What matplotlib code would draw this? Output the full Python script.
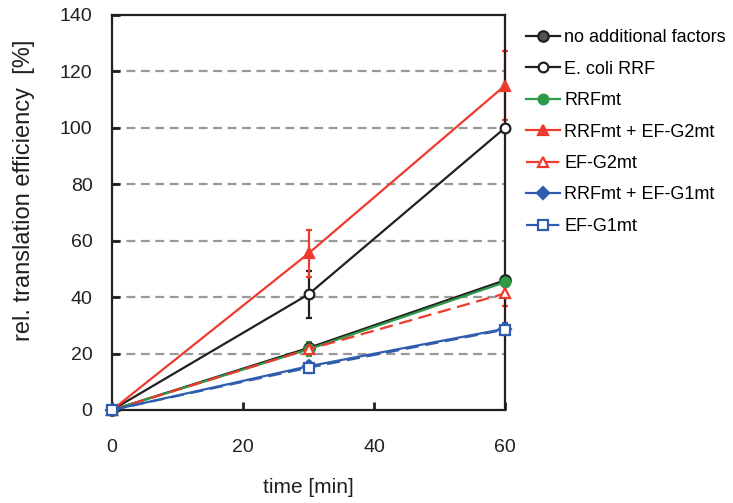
import matplotlib
matplotlib.use("Agg")
import matplotlib.pyplot as plt

plt.rcParams["font.family"] = ["Liberation Sans", "DejaVu Sans"]

# data
time = [0, 30, 60]
series_names = ["no additional factors", "E. coli RRF", "RRFmt", "RRFmt + EF-G2mt",
                "EF-G2mt", "RRFmt + EF-G1mt", "EF-G1mt"]
no_factors = [0, 22, 46]
no_factors_err = [0, 0, 0]
ecoli_rrf = [0, 41, 100]
ecoli_rrf_err = [0, 8.3, 0]
rrfmt = [0, 21.5, 45.3]
rrfmt_err = [0, 2.5, 0]
rrfmt_g2 = [0, 55.5, 115]
rrfmt_g2_err = [0, 8.3, 12.3]
efg2 = [0, 21.5, 41.3]
efg2_err = [0, 1.5, 4.5]
rrfmt_g1 = [0, 15.5, 28.8]
rrfmt_g1_err = [0, 1.5, 2]
efg1 = [0, 15, 28.5]
efg1_err = [0, 2, 2]

RED = "#EE3A2C"
GREEN = "#2E9A47"
BLUE = "#2F5DAE"
BLACK = "#231F20"
DASH = (0, (6, 3))

styles = [
    (no_factors, no_factors_err, dict(color=BLACK, marker="o", mfc="#555555", ls="-", ms=7.5)),
    (ecoli_rrf, ecoli_rrf_err, dict(color=BLACK, marker="o", mfc="white", ls="-", ms=7)),
    (rrfmt, rrfmt_err, dict(color=GREEN, marker="o", mfc=GREEN, ls="-", ms=7)),
    (rrfmt_g2, rrfmt_g2_err, dict(color=RED, marker="^", mfc=RED, ls="-", ms=7)),
    (efg2, efg2_err, dict(color=RED, marker="^", mfc="white", ls=DASH, ms=7)),
    (rrfmt_g1, rrfmt_g1_err, dict(color=BLUE, marker="D", mfc=BLUE, ls="-", ms=6)),
    (efg1, efg1_err, dict(color=BLUE, marker="s", mfc="white", ls=DASH, ms=6.5)),
]

fig = plt.figure(figsize=(7.33, 5.03), dpi=100)
ax = fig.add_axes([0.1528, 0.1849, 0.5362, 0.7853])

for y in [20, 40, 60, 80, 100, 120]:
    ax.axhline(y, color="#999999", lw=1.6, ls=(0, (4, 2.5)), zorder=0)

for name, (vals, err, st) in zip(series_names, styles):
    ax.errorbar(time, vals, yerr=err, fmt="none", ecolor=st["color"], capsize=2.5,
                capthick=1.6, elinewidth=1.6, clip_on=False, zorder=2)
    ax.plot(time, vals, label=name, lw=1.6, mew=1.6, mec=st["color"],
            clip_on=False, zorder=3, **st)

ax.set_xlim(0, 60)
ax.set_ylim(0, 140)
ax.set_xticks([0, 20, 40, 60])
ax.set_yticks(range(0, 141, 20))
ax.tick_params(direction="in", length=6, width=2, labelsize=14, color=BLACK,
               labelcolor=BLACK)
ax.tick_params(axis="x", pad=21)
ax.tick_params(axis="y", pad=14)
for sp in ax.spines.values():
    sp.set_linewidth(1.6)
    sp.set_color(BLACK)

ax.set_xlabel("time [min]", fontsize=15, color=BLACK, labelpad=16)
ax.set_ylabel("rel. translation efficiency  [%]", fontsize=17, color=BLACK)
ax.yaxis.set_label_coords(-0.195, 0.557)

ax.legend(loc="upper left", bbox_to_anchor=(1.02, 0.996), frameon=False,
          fontsize=13, handlelength=1.9, handletextpad=0.25, labelspacing=0.8,
          borderaxespad=0.3)

fig.savefig("out.png", dpi=100)
